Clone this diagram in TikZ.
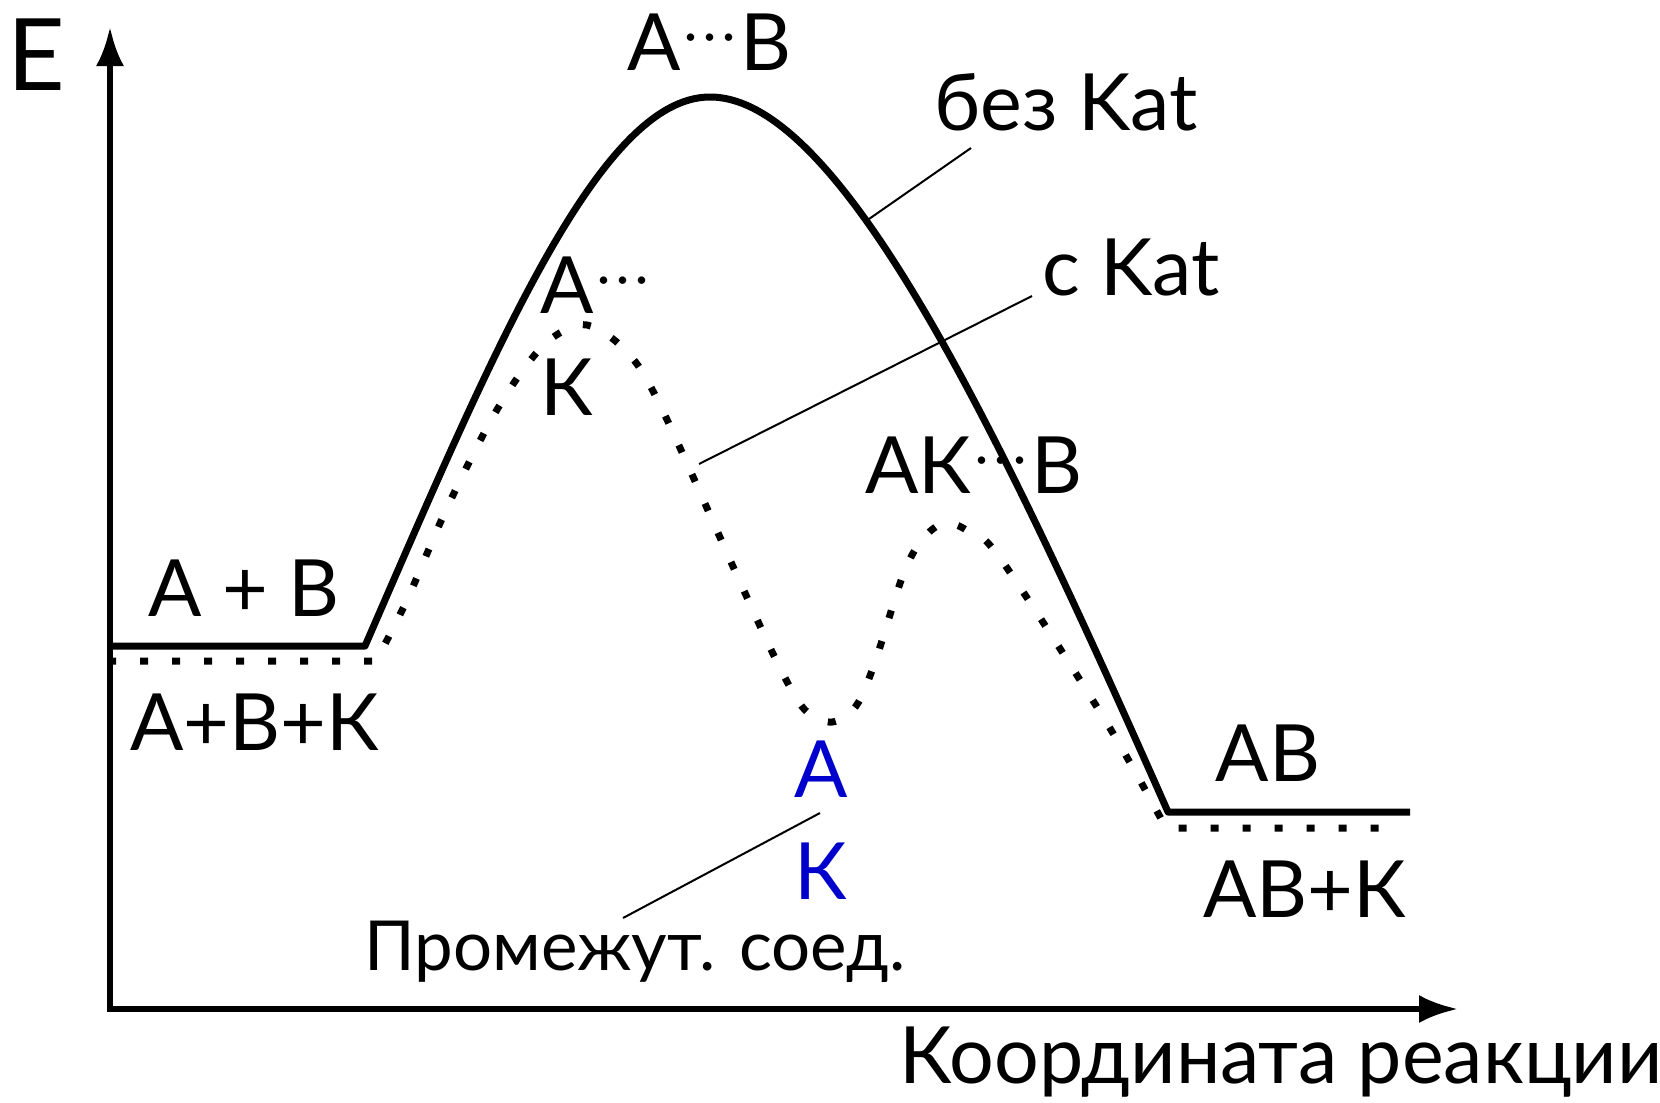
\documentclass[tikz,border=0pt]{standalone}
\usepackage{fontspec}
\setmainfont{Lato}
\usetikzlibrary{arrows.meta}
\definecolor{interblue}{RGB}{0,0,204}
\newcommand\mydots{\kern4pt\raisebox{18pt}{\fontsize{50}{50}\selectfont ·\kern6pt·\kern6pt·}\kern5pt}
\begin{document}
\begin{tikzpicture}[x=1pt,y=-1pt,
  lbl/.style={inner sep=0pt, anchor=base, font=\fontsize{79}{80}\selectfont},
  axisline/.style={line width=6pt, line join=miter},
  solidcurve/.style={line width=7pt, line join=round},
  dotcurve/.style={line width=7pt, line cap=butt, dash pattern=on 8pt off 24pt},
  leader/.style={line width=2pt}
]
\useasboundingbox (0,0) rectangle (1660,1103);

% labels
\node[lbl, font=\fontsize{100}{100}\selectfont] (E) at (36,90) {Е};
\node[lbl, anchor=base west] (AB1) at (627,70) {А\mydots В};
\node[lbl] (bez) at (1066,130) {без Kat};
\node[lbl] (skat) at (1131,295) {с Kat};
\node[lbl, anchor=base west] (TA) at (540,313) {А\mydots};
\node[lbl] (TK) at (567,415) {К};
\node[lbl, anchor=base west] (AKB) at (865,493) {АК\mydots В};
\node[lbl] (ApB) at (244,616) {А + В};
\node[lbl] (ApBpK) at (255,750) {А+В+К};
\node[lbl, text=interblue] (IA) at (821,797) {А};
\node[lbl, text=interblue] (IK) at (821,899) {К};
\node[lbl, font=\fontsize{69}{70}\selectfont] (prom) at (635,970) {Промежут. соед.};
\node[lbl] (ABp) at (1268,781) {АВ};
\node[lbl] (ABK) at (1305,917) {АВ+К};
\node[lbl] (coord) at (1281,1083) {Координата реакции};

% axes
\coordinate (O) at (110,1009);
\coordinate (ytip) at (110,27);
\coordinate (xtip) at (1458,1009);
\draw[axisline, {Latex[length=39pt,width=28pt]}-{Latex[length=39pt,width=28pt]}] (ytip) -- (O) -- (xtip);

% uncatalysed path
\coordinate (s0) at (110,646);
\coordinate (s1) at (365,646);
\coordinate (speak) at (710,97);
\coordinate (s2) at (1168,812);
\coordinate (s3) at (1410,812);
\draw[solidcurve] (s0) -- (s1)
  .. controls (495,347) and (600,97) .. (speak)
  .. controls (840,97) and (998,428) .. (s2)
  -- (s3);

% catalysed path
\draw[dotcurve] (108,661) -- (376,661)
  -- plot[smooth, tension=0.55] coordinates {(376,661) (407,600) (446,510) (490,422) (523,370) (552,338) (587,325) (627,352) (661,407) (740,582) (780,668) (805,710) (832,722) (856,706) (875,662) (903,575) (922,540) (944,523) (968,531) (1000,558) (1105,720) (1166,828)}
  -- (1400,828);

% leader lines
\coordinate (bezA) at (971,148);
\coordinate (bezB) at (869,219);
\coordinate (skA) at (1032,296);
\coordinate (skB) at (699,464);
\coordinate (prA) at (820,813);
\coordinate (prB) at (623,918);
\draw[leader] (bezA) -- (bezB);
\draw[leader] (skA) -- (skB);
\draw[leader] (prA) -- (prB);
\end{tikzpicture}
\end{document}
